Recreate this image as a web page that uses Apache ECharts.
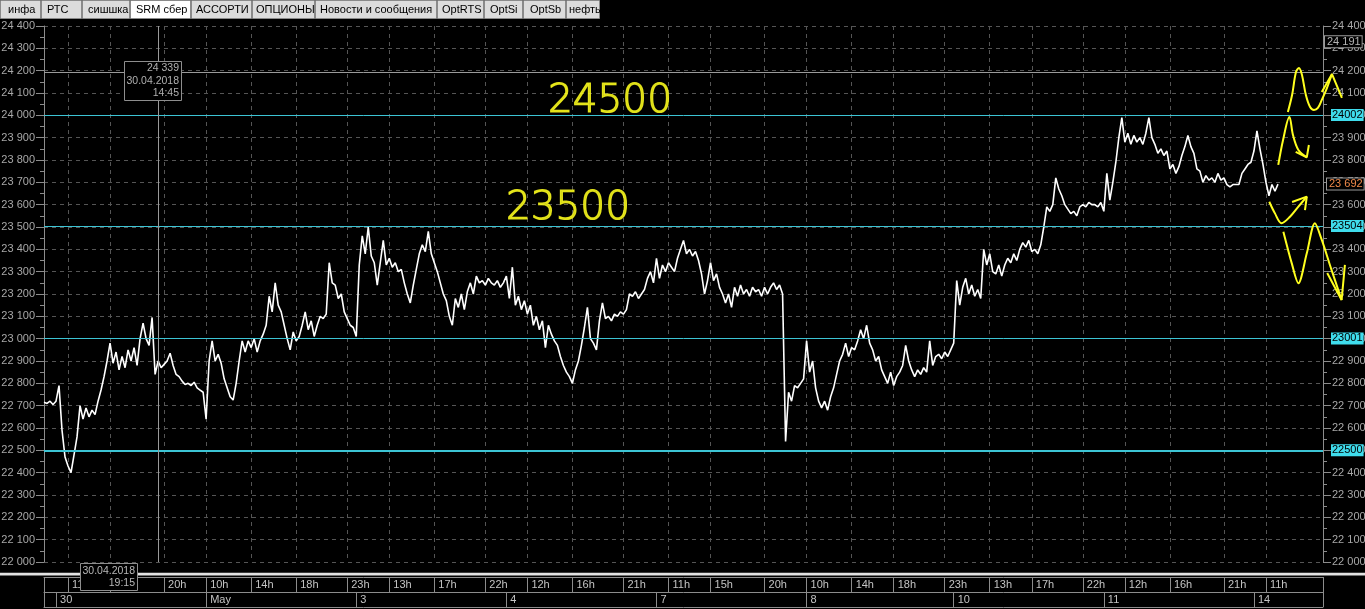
<!DOCTYPE html>
<html><head><meta charset="utf-8">
<script src="https://cdn.jsdelivr.net/npm/echarts@6/dist/echarts.min.js"></script>
<style>html,body{margin:0;padding:0;background:#000;overflow:hidden}#c{width:1365px;height:609px}</style>
</head><body><div id="c"></div>
<script>
// ---------- data ----------
const N_SLOTS = 427;            // time slots on the x axis
const N_SLOTS_EXT = 441;        // slots incl. the area right of the price scale (for drawn notes)
const Y_MIN = 22000, Y_MAX = 24400, Y_STEP = 100;
const price = [
22715,22710,22720,22705,22720,22790,22590,22470,22430,22400,
22480,22560,22700,22640,22690,22650,22680,22660,22720,22770,
22830,22900,22980,22890,22940,22860,22920,22870,22950,22900,
22960,22880,23000,23070,23000,22970,23095,22840,22900,22870,
22885,22900,22935,22880,22840,22830,22810,22795,22800,22790,
22805,22780,22770,22760,22640,22900,22990,22900,22930,22890,
22820,22780,22740,22725,22800,22900,22990,22940,22990,22960,
23000,22940,22990,23020,23060,23190,23120,23250,23150,23120,
23060,23000,22950,23030,22990,23010,23060,23120,23040,23080,
23010,23060,23100,23090,23110,23340,23250,23240,23180,23200,
23120,23090,23060,23050,23010,23330,23460,23380,23500,23370,
23340,23240,23340,23440,23330,23360,23320,23340,23300,23310,
23250,23200,23160,23240,23310,23380,23420,23390,23480,23380,
23340,23300,23250,23200,23170,23100,23060,23180,23140,23200,
23130,23210,23250,23200,23280,23250,23260,23240,23270,23250,
23240,23260,23230,23250,23280,23180,23320,23150,23190,23130,
23170,23110,23150,23060,23100,23040,23080,22960,23060,23020,
22990,22970,22920,22880,22850,22830,22800,22860,22900,22970,
23050,23140,23000,22980,22950,23080,23160,23090,23100,23080,
23110,23100,23120,23110,23130,23200,23190,23210,23180,23200,
23220,23270,23300,23250,23360,23270,23330,23300,23340,23320,
23300,23360,23400,23440,23380,23400,23370,23390,23350,23290,
23200,23260,23340,23260,23290,23230,23200,23160,23200,23140,
23230,23190,23240,23200,23220,23190,23230,23210,23220,23190,
23230,23200,23230,23250,23220,23240,23200,22540,22760,22720,
22790,22780,22800,22820,22990,22850,22900,22780,22720,22690,
22720,22680,22740,22780,22840,22900,22930,22980,22920,22960,
22950,22990,23040,23000,23060,22980,22950,22900,22920,22860,
22830,22800,22850,22790,22830,22850,22880,22970,22900,22860,
22830,22860,22840,22870,22850,22990,22880,22920,22930,22910,
22940,22920,22950,22980,23260,23150,23230,23270,23200,23240,
23190,23220,23180,23400,23330,23380,23300,23290,23330,23280,
23330,23360,23340,23380,23350,23400,23430,23410,23440,23390,
23400,23380,23420,23500,23590,23570,23600,23720,23670,23640,
23600,23580,23560,23570,23550,23590,23600,23590,23610,23600,
23600,23590,23610,23570,23740,23620,23700,23790,23900,23990,
23880,23920,23870,23910,23880,23900,23870,23920,23990,23900,
23870,23830,23850,23820,23840,23760,23780,23740,23770,23820,
23860,23910,23860,23830,23760,23750,23700,23730,23710,23720,
23700,23740,23710,23720,23690,23680,23690,23690,23690,23740,
23760,23780,23790,23840,23930,23850,23780,23700,23640,23690,
23660,23692
];
const hourTickIdx = [8,22,40,54,69,84,101,115,130,147,161,176,193,208,222,240,254,269,283,300,315,329,346,360,375,393,407];
const hourLabels  = ['11h','15h','20h','10h','14h','18h','23h','13h','17h','22h','12h','16h','21h','11h','15h','20h','10h','14h','18h','23h','13h','17h','22h','12h','16h','21h','11h'];
const dayTickIdx = [4,54,104,154,204,254,303,353,403];
const dayLabels  = ['30','May','3','4','7','8','10','11','14'];
const levels = [24002, 23504, 23001, 22500];
const cursorPrice = 24191;
const cursorIdx = 38;
const lastPrice = 23692;
const cursorBoxLines = ['24 339', '30.04.2018', '14:45'];
const timeBoxLines = ['30.04.2018', '19:15'];
const noteTexts = ['24500', '23500'];
const noteIdx   = [188.5, 174.5];
const notePrice = [24060, 23580];
const scribTop = [[414.3,24015],[415.7,24091],[417.0,24194],[418.0,24212],[419.0,24181],[420.3,24091],[421.7,24037],[423.0,24024],[424.3,24033],[425.6,24069],[427.3,24122],[429.0,24185]];
const headTop  = [[425.6,24104],[429.0,24185],[432.3,24078]];
const scribB   = [[411.1,23778],[412.7,23890],[414.8,23993],[416.0,23912],[417.8,23845],[420.6,23812]];
const headB    = [[416.9,23836],[420.6,23812],[421.3,23867]];
const scribC   = [[408.1,23613],[410.0,23561],[412.2,23517],[415.0,23546],[417.8,23591],[420.6,23636]];
const headC    = [[415.7,23612],[420.6,23636],[420.0,23576]];
const scribD   = [[412.8,23479],[415.6,23337],[417.8,23248],[420.6,23382],[423.3,23517],[425.6,23442],[428.3,23330],[432.2,23173]];
const headD    = [[427.4,23294],[432.2,23173],[433.3,23330]];
const tabNames = ['инфа','РТС','сишшка','SRM сбер','АССОРТИ','ОПЦИОНЫ','Новости и сообщения','OptRTS','OptSi','OptSb','нефть'];
const activeTab = 3;

// ---------- build ----------
const hourCats = new Array(N_SLOTS).fill('');
hourTickIdx.forEach((k, i) => { hourCats[k] = hourLabels[i]; });
const dayCats = new Array(N_SLOTS).fill('');
dayTickIdx.forEach((k, i) => { dayCats[k] = dayLabels[i]; });
const hourSet = new Set(hourTickIdx);
const hourDiv = new Set([0, N_SLOTS - 1].concat(hourTickIdx));
const daySet = new Set(dayTickIdx);
const dayDiv = new Set([0, N_SLOTS - 1].concat(dayTickIdx));

const fmtPrice = v => { const s = String(Math.round(v)); return s.slice(0, s.length - 3) + ' ' + s.slice(-3); };

const AX = '#8c8c8c', GRIDC = '#555555', LABELC = '#a8a8a8';
const FONT = '"Liberation Sans", Arial, sans-serif';
const YEL = '#ffff1e';
const CYAN_LINE = '#3cc4d4', CYAN_BG = '#3fdcec';

const PLOT_L = 44, PLOT_R = 42, PLOT_T = 26, PLOT_H = 536;
const PLOT_W = 1365 - PLOT_L - PLOT_R;
const slotW = PLOT_W / (N_SLOTS - 1);
const extRight = 1365 - PLOT_L - slotW * (N_SLOTS_EXT - 1);

const yBase = {
  type: 'value', gridIndex: 0, min: Y_MIN, max: Y_MAX, interval: Y_STEP,
  axisLine: { show: true, lineStyle: { color: AX, width: 1 } },
  axisTick: { show: true, length: 8, lineStyle: { color: AX } },
  minorTick: { show: true, splitNumber: 2, length: 4, lineStyle: { color: AX } },
  axisLabel: { show: true, color: LABELC, fontFamily: FONT, fontSize: 11, margin: 9, formatter: fmtPrice, showMinLabel: true, showMaxLabel: true },
  splitLine: { show: true, lineStyle: { color: GRIDC, type: [4, 4], width: 1 } },
  minorSplitLine: { show: false }
};

function catAxis(data, divSet, labSet, offset, withSplit) {
  return {
    type: 'category', gridIndex: 0, data: data, boundaryGap: false, position: 'bottom', offset: offset,
    axisLine: { show: true, onZero: false, lineStyle: { color: AX, width: 1 } },
    axisTick: { show: true, length: 15, interval: (i) => divSet.has(i), lineStyle: { color: AX } },
    axisLabel: { show: true, interval: (i) => labSet.has(i), align: 'left', verticalAlign: 'top', margin: 2, padding: [0, 0, 0, 4],
                 color: '#c4c4c4', fontFamily: FONT, fontSize: 11 },
    splitLine: { show: withSplit, interval: (i) => labSet.has(i), lineStyle: { color: GRIDC, type: [4, 4], width: 1 } }
  };
}

const markData = levels.map((v, i) => ({
  yAxis: v,
  lineStyle: { color: CYAN_LINE, width: i === levels.length - 1 ? 2 : 1, type: 'solid' },
  label: { show: true, position: 'end', distance: 8, formatter: String(v), color: '#000', backgroundColor: CYAN_BG,
           padding: [1, 1, 0, 1], fontFamily: FONT, fontSize: 11 }
}));
markData.push({
  yAxis: cursorPrice,
  lineStyle: { color: '#9a9a9a', width: 1, type: 'solid' },
  label: { show: true, position: 'end', distance: 2, offset: [0, -31], formatter: fmtPrice(cursorPrice), color: '#b4b4b4',
           backgroundColor: '#000', borderColor: '#9a9a9a', borderWidth: 1, padding: [0, 1, 0, 2], fontFamily: FONT, fontSize: 11 }
});
markData.push({
  xAxis: cursorIdx,
  lineStyle: { color: '#9a9a9a', width: 1, type: 'solid' },
  label: { show: false }
});
markData.push({
  yAxis: lastPrice,
  lineStyle: { color: 'rgba(0,0,0,0)', width: 0 },
  label: { show: true, position: 'end', distance: 4, formatter: fmtPrice(lastPrice), color: '#f08a4a',
           backgroundColor: '#000', borderColor: '#9a9a9a', borderWidth: 1, padding: [0, 1, 0, 2], fontFamily: FONT, fontSize: 11 }
});

function scrib(data, smooth) {
  return { type: 'line', xAxisIndex: 4, yAxisIndex: 2, data: data, smooth: smooth, showSymbol: false, symbol: 'none', clip: false,
           lineStyle: { color: YEL, width: 2 }, silent: true, z: 6 };
}

// tabs layout
const tabEdges = [0, 41, 82, 130, 191, 252, 315, 437, 484, 523, 566, 600];
const tabTextX = [8, 47, 88, 136, 196, 256, 320, 442, 490, 530, 569];
const graphics = [];
tabNames.forEach((t, i) => {
  graphics.push({ type: 'rect', z: 100, shape: { x: tabEdges[i] + 0.5, y: 0.5, width: tabEdges[i + 1] - tabEdges[i] - 1, height: 18 },
                  style: { fill: i === activeTab ? '#ffffff' : '#dcdcdc', stroke: '#8a8a8a', lineWidth: 1 } });
  graphics.push({ type: 'text', z: 101, style: { text: t, x: tabTextX[i], y: 10, align: 'left', verticalAlign: 'middle', textAlign: 'left', textVerticalAlign: 'middle',
                  fill: '#000', font: '11px ' + FONT } });
});
// separator strip above time rows
graphics.push({ type: 'rect', z: 100, shape: { x: 0, y: 572.8, width: 1365, height: 2.6 }, style: { fill: '#e2e2e2' } });
// crosshair info box
graphics.push({ type: 'rect', z: 102, shape: { x: 124.5, y: 61.5, width: 57, height: 39 }, style: { fill: '#000', stroke: '#8e8e8e', lineWidth: 1 } });
cursorBoxLines.forEach((t, i) => graphics.push({ type: 'text', z: 103,
  style: { text: t, x: 179, y: 63 + i * 12.5, align: 'right', textAlign: 'right', verticalAlign: 'top', textVerticalAlign: 'top', fill: '#b0b0b0', font: '10.5px ' + FONT } }));
// time cursor box on the axis
graphics.push({ type: 'rect', z: 102, shape: { x: 80.5, y: 563.5, width: 57, height: 27 }, style: { fill: '#000', stroke: '#8e8e8e', lineWidth: 1 } });
timeBoxLines.forEach((t, i) => graphics.push({ type: 'text', z: 103,
  style: { text: t, x: 135, y: 565.5 + i * 12.5, align: 'right', textAlign: 'right', verticalAlign: 'top', textVerticalAlign: 'top', fill: '#b8b8b8', font: '10.5px ' + FONT } }));

const option = {
  backgroundColor: '#000',
  animation: false,
  grid: [
    { left: PLOT_L, right: PLOT_R, top: PLOT_T, height: PLOT_H, containLabel: false, outerBoundsMode: 'none', show: false },
    { left: PLOT_L, right: extRight, top: PLOT_T, height: PLOT_H, containLabel: false, outerBoundsMode: 'none', show: false }
  ],
  xAxis: [
    catAxis(hourCats, hourDiv, hourSet, 15, true),
    catAxis(dayCats, dayDiv, daySet, 30, false),
    { type: 'value', gridIndex: 0, min: 0, max: N_SLOTS - 1, show: false, splitLine: { show: false } },
    { type: 'category', gridIndex: 0, data: hourCats, boundaryGap: false, position: 'bottom', offset: 45,
      axisLine: { show: true, onZero: false, lineStyle: { color: AX } }, axisTick: { show: false }, axisLabel: { show: false }, splitLine: { show: false } },
    { type: 'value', gridIndex: 1, min: 0, max: N_SLOTS_EXT - 1, show: false, splitLine: { show: false } }
  ],
  yAxis: [
    Object.assign({}, yBase, { position: 'left' }),
    Object.assign({}, yBase, { position: 'right', splitLine: { show: false } }),
    { type: 'value', gridIndex: 1, min: Y_MIN, max: Y_MAX, show: false, splitLine: { show: false } }
  ],
  series: [
    { type: 'line', xAxisIndex: 0, yAxisIndex: 0, data: price, showSymbol: false, symbol: 'none',
      lineStyle: { color: '#ffffff', width: 1.6 }, silent: true, z: 3,
      markLine: { silent: true, symbol: ['none', 'none'], animation: false, data: markData } },
    scrib(scribTop, 0.35), scrib(headTop, false),
    scrib(scribB, 0.35), scrib(headB, false),
    scrib(scribC, 0.35), scrib(headC, false),
    scrib(scribD, 0.3), scrib(headD, false),
    { type: 'scatter', xAxisIndex: 4, yAxisIndex: 2, symbolSize: 1, itemStyle: { color: 'rgba(0,0,0,0)' }, silent: true, clip: false, z: 6,
      data: noteIdx.map((x, i) => [x, notePrice[i], noteTexts[i]]),
      label: { show: true, position: 'inside', formatter: p => p.data[2], color: YEL, fontSize: 39, fontFamily: '"DejaVu Sans", sans-serif', fontWeight: 200,
               textBorderColor: YEL, textBorderWidth: 1.2 } }
  ],
  graphic: { elements: graphics }
};
const chart = echarts.init(document.getElementById('c'), null, { renderer: 'canvas', width: 1365, height: 609 });
chart.setOption(option);
</script>
</body></html>
